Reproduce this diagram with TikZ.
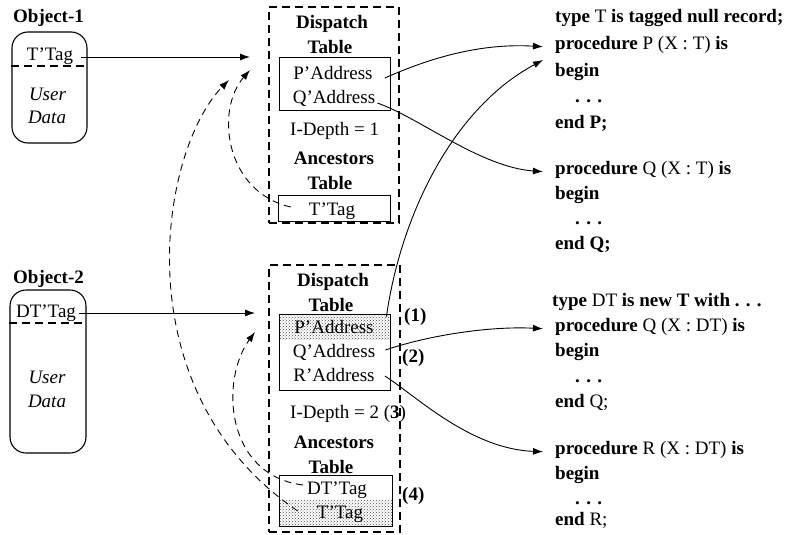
\documentclass[tikz,border=0pt]{standalone}
\usepackage{fontspec}
\setmainfont{Liberation Serif}
\usetikzlibrary{arrows.meta,patterns}

\begin{document}
\begin{tikzpicture}[x=1pt,y=-1pt,
  every node/.style={inner sep=0pt, font=\fontsize{19}{25}\selectfont},
  txt/.style={anchor=base},
  codeline/.style={anchor=base west},
  objbox/.style={draw, line width=1.1pt, rounded corners=16pt},
  dashframe/.style={draw, line width=1.1pt, dash pattern=on 8pt off 5pt},
  sepline/.style={line width=1.1pt, dash pattern=on 8pt off 5pt},
  tbl/.style={draw, line width=0.9pt},
  dotfill/.style={pattern=crosshatch dots, pattern color=black!70},
  link/.style={line width=0.9pt, -{Latex[length=10pt,width=7pt]}},
  backlink/.style={link, dash pattern=on 7pt off 5pt},
]
\useasboundingbox (0,0) rectangle (792,535);

% ---------- objects ----------
\node[codeline, font=\fontsize{19}{25}\selectfont\bfseries] (o1lbl) at (13,23) {Object-1};
\node[objbox, minimum width=75pt, minimum height=111pt] (obj1) at (49.5,87.5) {};
\draw[sepline] (obj1.west |- 0,66) -- (obj1.east |- 0,66);
\node[txt] (tag1) at (50,61) {T’Tag};
\node[txt, font=\fontsize{19}{25}\selectfont\itshape] (ud1) at (47.5,100) {User};
\node[txt, font=\fontsize{19}{25}\selectfont\itshape] (dd1) at (47,123) {Data};

\node[codeline, font=\fontsize{19}{25}\selectfont\bfseries] (o2lbl) at (13,283) {Object-2};
\node[objbox, minimum width=76pt, minimum height=163pt] (obj2) at (48,371.5) {};
\draw[sepline] (obj2.west |- 0,323) -- (obj2.east |- 0,323);
\node[txt] (tag2) at (46,317) {DT’Tag};
\node[txt, font=\fontsize{19}{25}\selectfont\itshape] (ud2) at (47,383) {User};
\node[txt, font=\fontsize{19}{25}\selectfont\itshape] (dd2) at (47,407) {Data};

% ---------- dispatch table of T ----------
\node[dashframe, minimum width=130pt, minimum height=216pt] (disp1) at (334,115) {};
\node[tbl, minimum width=111pt, minimum height=53pt] (inner1) at (334.5,83.5) {};
\node[tbl, minimum width=112pt, minimum height=26pt] (anc1) at (334,208) {};
\node[txt, font=\fontsize{19}{25}\selectfont\bfseries] (dh1) at (332,29) {Dispatch};
\node[txt, font=\fontsize{19}{25}\selectfont\bfseries] (dt1) at (330,53) {Table};
\node[txt] (pa1) at (333,80) {P’Address};
\node[txt] (qa1) at (334,103) {Q’Address};
\node[codeline] (idep1) at (290,135) {I-Depth = 1};
\node[txt, font=\fontsize{19}{25}\selectfont\bfseries] (ah1) at (334,164) {Ancestors};
\node[txt, font=\fontsize{19}{25}\selectfont\bfseries] (at1) at (330,189) {Table};
\node[txt] (tt1) at (332,215) {T’Tag};

% ---------- dispatch table of DT ----------
\fill[dotfill] (279,314) rectangle (390,339);
\fill[dotfill] (279,500) rectangle (392,526);
\node[dashframe, minimum width=131pt, minimum height=267pt] (disp2) at (334.5,398.5) {};
\node[tbl, minimum width=111pt, minimum height=76pt] (inner2) at (334.5,352) {};
\node[tbl, minimum width=113pt, minimum height=51pt] (anc2) at (335.5,500.5) {};
\node[txt, font=\fontsize{19}{25}\selectfont\bfseries] (dh2) at (333,286) {Dispatch};
\node[txt, font=\fontsize{19}{25}\selectfont\bfseries] (dt2) at (331,311) {Table};
\node[txt] (pa2) at (334,333) {P’Address};
\node[txt] (qa2) at (334,357) {Q’Address};
\node[txt] (ra2) at (334,381) {R’Address};
\node[codeline] (idep2) at (290,418) {I-Depth = 2 (\textbf{3})};
\node[txt, font=\fontsize{19}{25}\selectfont\bfseries] (ah2) at (334,448) {Ancestors};
\node[txt, font=\fontsize{19}{25}\selectfont\bfseries] (at2) at (331,473) {Table};
\node[txt] (dtt2) at (337,494) {DT’Tag};
\node[txt] (tt2) at (340,518) {T’Tag};
\node[codeline, font=\fontsize{19}{25}\selectfont\bfseries] (m1) at (404,321) {(1)};
\node[codeline, font=\fontsize{19}{25}\selectfont\bfseries] (m2) at (402,362) {(2)};
\node[codeline, font=\fontsize{19}{25}\selectfont\bfseries] (m4) at (402,500) {(4)};

% ---------- Ada source ----------
\node[codeline] (c1) at (555,23) {\textbf{type} T \textbf{is tagged null record;}};
\node[codeline] (procP) at (555,49) {\textbf{procedure} P (X : T) \textbf{is}};
\node[codeline] (bP) at (555,76) {\textbf{begin}};
\node[codeline] (dP) at (575,102) {\textbf{. . .}};
\node[codeline] (eP) at (555,128) {\textbf{end P;}};

\node[codeline] (procQ) at (555,174) {\textbf{procedure} Q (X : T) \textbf{is}};
\node[codeline] (bQ) at (555,199) {\textbf{begin}};
\node[codeline] (dQ) at (575,224) {\textbf{. . .}};
\node[codeline] (eQ) at (555,249) {\textbf{end Q;}};

\node[codeline] (c2) at (552,306) {\textbf{type} DT \textbf{is new T with . . .}};
\node[codeline] (procQD) at (555,331) {\textbf{procedure} Q (X : DT) \textbf{is}};
\node[codeline] (bQD) at (555,356) {\textbf{begin}};
\node[codeline] (dQD) at (575,382) {\textbf{. . .}};
\node[codeline] (eQD) at (555,407) {\textbf{end} Q;};

\node[codeline] (procRD) at (555,454) {\textbf{procedure} R (X : DT) \textbf{is}};
\node[codeline] (bRD) at (555,479) {\textbf{begin}};
\node[codeline] (dRD) at (575,504) {\textbf{. . .}};
\node[codeline] (eRD) at (555,525.5) {\textbf{end} R;};

% ---------- connector ends ----------
\coordinate (in1) at (250,57);
\coordinate (in2) at (255,313);
\coordinate (tipA) at (250,70);
\coordinate (tipB) at (229,80);
\coordinate (tipC) at (255,332);
\coordinate (tipP2) at (543,60);

% tags to dispatch tables
\draw[link] ([xshift=8pt,yshift=4pt]tag1.base east) -- (in1);
\draw[link] ([xshift=3pt,yshift=4pt]tag2.base east) -- (in2);

% dispatch entries to bodies
\draw[link] ([xshift=12pt,yshift=2pt]pa1.base east) .. controls (430,58) and (480,43) .. ([xshift=-12pt]procP.mid west);
\draw[link] ([xshift=2pt]qa1.base east) .. controls (420,118) and (480,167) .. ([xshift=-12pt]procQ.mid west);
\draw[link] ([xshift=-4pt,yshift=-3pt]inner2.north east) .. controls (400,220) and (450,110) .. (tipP2);
\draw[link] ([xshift=10pt,yshift=7pt]qa2.base east) .. controls (430,335) and (490,326) .. ([xshift=-12pt]procQD.mid west);
\draw[link] ([xshift=10pt,yshift=5pt]ra2.base east) .. controls (415,395) and (470,449) .. ([xshift=-12pt]procRD.mid west);

% ancestor tags back to dispatch tables
\draw[backlink] ([xshift=-18pt,yshift=8pt]tt1.base west) .. controls (225,192) and (215,110) .. (tipA);
\draw[backlink] ([xshift=-19pt,yshift=7pt]tt2.base west) .. controls (120,390) and (160,150) .. (tipB);
\draw[backlink] ([xshift=-4pt,yshift=9pt]dtt2.base west) .. controls (225,475) and (220,380) .. (tipC);
\end{tikzpicture}
\end{document}
